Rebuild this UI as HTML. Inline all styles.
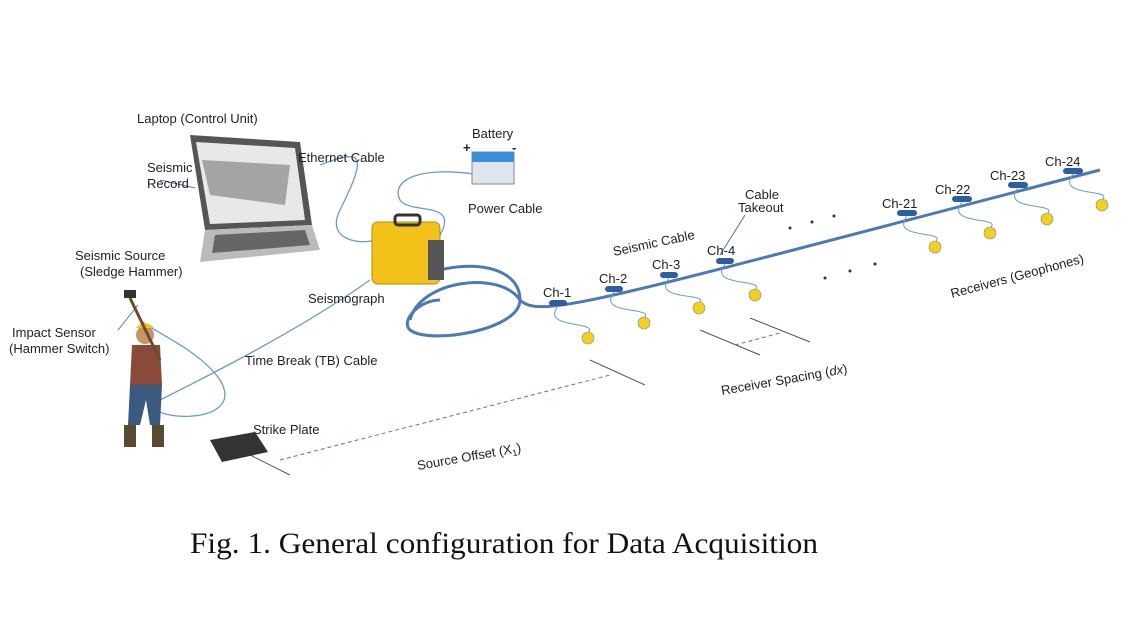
<!DOCTYPE html>
<html><head><meta charset="utf-8"><style>
body{margin:0;background:#fff;width:1127px;height:634px;overflow:hidden}
svg{display:block}
text{font-family:"Liberation Sans",sans-serif;font-size:13px;fill:#222}
</style></head><body>
<svg width="1127" height="634" viewBox="0 0 1127 634">
<!-- laptop -->
<polygon points="190,135 300,142 312,225 205,230" fill="#555"/>
<polygon points="196,142 295,148 305,220 210,224" fill="#e8e8e8"/>
<polygon points="202,160 290,165 285,205 210,195" fill="#777" opacity=".6"/>
<polygon points="205,230 312,225 320,250 200,262" fill="#bbb"/>
<polygon points="215,235 305,230 310,245 212,253" fill="#666"/>
<!-- seismic cable main -->
<path d="M410,320 C420,280 500,270 520,300 C540,320 600,300 1100,170" stroke="#4a79b4" stroke-width="3" fill="none"/>
<path d="M440,270 C480,260 520,270 520,300 C520,330 430,345 410,330 C400,320 420,300 440,300" stroke="#4a79b4" stroke-width="3" fill="none"/>
<!-- ethernet & power -->
<path d="M320,165 C360,150 370,150 340,210 C325,240 360,245 375,240" stroke="#6a9ad0" stroke-width="1.3" fill="none"/>
<path d="M480,175 C420,165 390,180 400,200 C410,215 460,200 440,235" stroke="#6a9ad0" stroke-width="1.3" fill="none"/>
<!-- TB cable -->
<path d="M370,280 C300,330 200,380 160,400 C130,420 250,430 220,380 C200,350 150,330 140,320" stroke="#6a9ad0" stroke-width="1.3" fill="none"/>
<!-- seismograph -->
<rect x="372" y="222" width="68" height="62" rx="6" fill="#f2c21b" stroke="#b88a00"/>
<rect x="395" y="215" width="25" height="10" rx="3" fill="none" stroke="#333" stroke-width="3"/>
<rect x="428" y="240" width="16" height="40" fill="#555"/>
<!-- battery -->
<rect x="472" y="152" width="42" height="32" fill="#dde6ef" stroke="#888"/>
<rect x="472" y="152" width="42" height="10" fill="#3a8fd8"/>
<!-- channels -->
<g fill="#2d5f9c">
<rect x="549" y="300" width="18" height="6" rx="3"/><rect x="605" y="286" width="18" height="6" rx="3"/>
<rect x="660" y="272" width="18" height="6" rx="3"/><rect x="716" y="258" width="18" height="6" rx="3"/>
<rect x="897" y="210" width="20" height="6" rx="3"/><rect x="952" y="196" width="20" height="6" rx="3"/>
<rect x="1008" y="182" width="20" height="6" rx="3"/><rect x="1063" y="168" width="20" height="6" rx="3"/>
</g>
<g stroke="#6a9ad0" fill="none" stroke-width="1">
<path d="M558,306 C540,330 600,320 588,333"/><path d="M614,292 C596,316 656,306 644,318"/>
<path d="M669,278 C651,302 711,292 699,303"/><path d="M725,264 C707,288 767,278 755,290"/>
<path d="M907,216 C889,240 949,230 935,242"/><path d="M962,202 C944,226 1004,216 990,228"/>
<path d="M1018,188 C1000,212 1060,202 1047,214"/><path d="M1073,174 C1055,198 1115,188 1102,200"/>
</g>
<g fill="#f0d020" stroke="#888" stroke-width=".6">
<circle cx="588" cy="338" r="6"/><circle cx="644" cy="323" r="6"/><circle cx="699" cy="308" r="6"/><circle cx="755" cy="295" r="6"/>
<circle cx="935" cy="247" r="6"/><circle cx="990" cy="233" r="6"/><circle cx="1047" cy="219" r="6"/><circle cx="1102" cy="205" r="6"/>
</g>
<g fill="#333"><circle cx="790" cy="228" r="1.5"/><circle cx="812" cy="222" r="1.5"/><circle cx="834" cy="216" r="1.5"/>
<circle cx="825" cy="278" r="1.5"/><circle cx="850" cy="271" r="1.5"/><circle cx="875" cy="264" r="1.5"/></g>
<g stroke="#555" stroke-width="1"><line x1="590" y1="360" x2="645" y2="385"/><line x1="700" y1="330" x2="760" y2="355"/><line x1="750" y1="318" x2="810" y2="342"/><line x1="250" y1="455" x2="290" y2="475"/></g>
<line x1="280" y1="460" x2="610" y2="375" stroke="#4a79b4" stroke-dasharray="4,3"/>
<line x1="735" y1="345" x2="780" y2="333" stroke="#4a79b4" stroke-dasharray="4,3"/>
<line x1="160" y1="180" x2="195" y2="188" stroke="#4a79b4"/><line x1="720" y1="255" x2="745" y2="215" stroke="#4a79b4"/>
<line x1="118" y1="330" x2="138" y2="305" stroke="#4a79b4"/>
<!-- man -->
<circle cx="145" cy="335" r="9" fill="#c8956a"/><path d="M136,328 Q145,318 154,328Z" fill="#f2c21b"/>
<polygon points="132,345 160,345 162,385 130,385" fill="#8a4a3a"/>
<polygon points="130,385 162,385 160,425 150,425 146,400 140,425 128,425" fill="#3a5a80"/>
<rect x="124" y="425" width="12" height="22" fill="#5a4a30"/><rect x="152" y="425" width="12" height="22" fill="#5a4a30"/>
<line x1="130" y1="298" x2="160" y2="360" stroke="#6b4a2a" stroke-width="3"/><rect x="124" y="290" width="12" height="8" fill="#333"/>
<polygon points="210,440 255,432 268,452 222,462" fill="#333"/>
<!-- labels -->
<text x="137" y="123" font-size="14">Laptop (Control Unit)</text>
<text x="147" y="172">Seismic</text><text x="147" y="188">Record</text>
<text x="298" y="162">Ethernet Cable</text>
<text x="472" y="138">Battery</text>
<text x="463" y="152" font-weight="bold" font-size="16">+</text><text x="512" y="152" font-weight="bold" font-size="16">-</text>
<text x="468" y="213">Power Cable</text>
<text x="614" y="256" transform="rotate(-12 614 256)" font-size="14">Seismic Cable</text>
<text x="745" y="199" font-size="11">Cable</text><text x="738" y="212" font-size="11">Takeout</text>
<text x="543" y="297">Ch-1</text><text x="599" y="283">Ch-2</text><text x="652" y="269">Ch-3</text><text x="707" y="255">Ch-4</text>
<text x="882" y="208">Ch-21</text><text x="935" y="194">Ch-22</text><text x="990" y="180">Ch-23</text><text x="1045" y="166">Ch-24</text>
<text x="308" y="303" font-size="16">Seismograph</text>
<text x="75" y="260">Seismic Source</text><text x="80" y="276">(Sledge Hammer)</text>
<text x="12" y="337">Impact Sensor</text><text x="9" y="353">(Hammer Switch)</text>
<text x="245" y="365">Time Break (TB) Cable</text>
<text x="253" y="434">Strike Plate</text>
<text x="418" y="470" transform="rotate(-10 418 470)" font-size="14">Source Offset (X<tspan font-size="9" dy="3">1</tspan><tspan dy="-3">)</tspan></text>
<text x="722" y="395" transform="rotate(-10 722 395)" font-size="14">Receiver Spacing (<tspan font-style="italic">dx</tspan>)</text>
<text x="952" y="298" transform="rotate(-15 952 298)" font-size="14">Receivers (Geophones)</text>
<text x="190" y="553" textLength="628" lengthAdjust="spacingAndGlyphs" style="font-family:'Liberation Serif',serif;font-size:30px;fill:#111">Fig. 1. General configuration for Data Acquisition</text>
</svg>
</body></html>
